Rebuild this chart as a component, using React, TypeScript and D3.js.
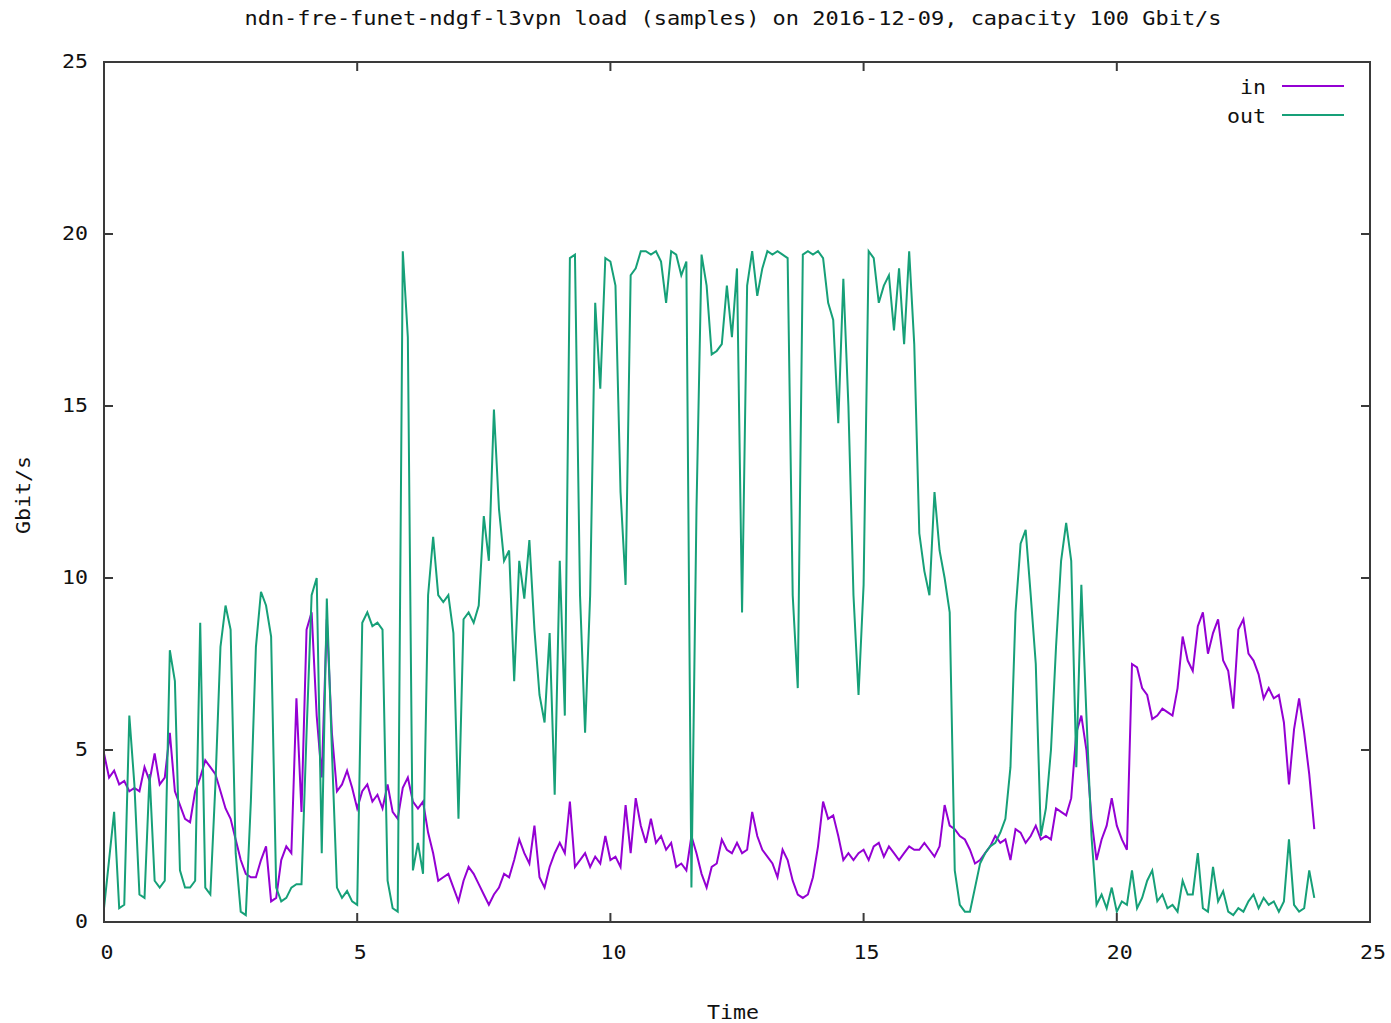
import React from "react";
import * as d3 from "d3";

const TITLE = "ndn-fre-funet-ndgf-l3vpn load (samples) on 2016-12-09, capacity 100 Gbit/s";
const X_LABEL = "Time";
const Y_LABEL = "Gbit/s";
const X_TICKS = [0, 5, 10, 15, 20, 25];
const Y_TICKS = [0, 5, 10, 15, 20, 25];
const SERIES_NAMES = ["in", "out"];
const SAMPLE_STEP_HOURS = 0.1;

// "in" traffic, one sample every 0.1 h starting at 0
const inValues = [
  4.9, 4.2, 4.4, 4.0, 4.1, 3.8, 3.9, 3.8, 4.5, 4.1,
  4.9, 4.0, 4.2, 5.5, 3.8, 3.4, 3.0, 2.9, 3.8, 4.2,
  4.7, 4.5, 4.3, 3.8, 3.3, 3.0, 2.4, 1.8, 1.4, 1.3,
  1.3, 1.8, 2.2, 0.6, 0.7, 1.8, 2.2, 2.0, 6.5, 3.2,
  8.5, 9.0, 6.0, 4.2, 8.8, 5.5, 3.8, 4.0, 4.4, 3.9,
  3.3, 3.8, 4.0, 3.5, 3.7, 3.3, 4.0, 3.2, 3.0, 3.9,
  4.2, 3.5, 3.3, 3.5, 2.6, 2.0, 1.2, 1.3, 1.4, 1.0,
  0.6, 1.2, 1.6, 1.4, 1.1, 0.8, 0.5, 0.8, 1.0, 1.4,
  1.3, 1.8, 2.4, 2.0, 1.7, 2.8, 1.3, 1.0, 1.6, 2.0,
  2.3, 2.0, 3.5, 1.6, 1.8, 2.0, 1.6, 1.9, 1.7, 2.5,
  1.8, 1.9, 1.6, 3.4, 2.0, 3.6, 2.8, 2.3, 3.0, 2.3,
  2.5, 2.1, 2.3, 1.6, 1.7, 1.5, 2.5, 2.0, 1.4, 1.0,
  1.6, 1.7, 2.4, 2.1, 2.0, 2.3, 2.0, 2.1, 3.2, 2.5,
  2.1, 1.9, 1.7, 1.3, 2.1, 1.8, 1.2, 0.8, 0.7, 0.8,
  1.3, 2.2, 3.5, 3.0, 3.1, 2.5, 1.8, 2.0, 1.8, 2.0,
  2.1, 1.8, 2.2, 2.3, 1.9, 2.2, 2.0, 1.8, 2.0, 2.2,
  2.1, 2.1, 2.3, 2.1, 1.9, 2.2, 3.4, 2.8, 2.7, 2.5,
  2.4, 2.1, 1.7, 1.8, 2.0, 2.2, 2.5, 2.3, 2.4, 1.8,
  2.7, 2.6, 2.3, 2.5, 2.8, 2.4, 2.5, 2.4, 3.3, 3.2,
  3.1, 3.6, 5.5, 6.0, 5.0, 3.0, 1.8, 2.4, 2.8, 3.6,
  2.8, 2.4, 2.1, 7.5, 7.4, 6.8, 6.6, 5.9, 6.0, 6.2,
  6.1, 6.0, 6.8, 8.3, 7.6, 7.3, 8.6, 9.0, 7.8, 8.4,
  8.8, 7.6, 7.3, 6.2, 8.5, 8.8, 7.8, 7.6, 7.2, 6.5,
  6.8, 6.5, 6.6, 5.8, 4.0, 5.6, 6.5, 5.5, 4.3, 2.7,
];

// "out" traffic, one sample every 0.1 h starting at 0
const outValues = [
  0.4, 1.8, 3.2, 0.4, 0.5, 6.0, 4.0, 0.8, 0.7, 4.3,
  1.2, 1.0, 1.2, 7.9, 7.0, 1.5, 1.0, 1.0, 1.2, 8.7,
  1.0, 0.8, 4.0, 8.0, 9.2, 8.5, 2.0, 0.3, 0.2, 3.5,
  8.0, 9.6, 9.2, 8.3, 1.0, 0.6, 0.7, 1.0, 1.1, 1.1,
  5.5, 9.5, 10.0, 2.0, 9.4, 5.0, 1.0, 0.7, 0.9, 0.6,
  0.5, 8.7, 9.0, 8.6, 8.7, 8.5, 1.2, 0.4, 0.3, 19.5,
  17.0, 1.5, 2.3, 1.4, 9.5, 11.2, 9.5, 9.3, 9.5, 8.4,
  3.0, 8.8, 9.0, 8.7, 9.2, 11.8, 10.5, 14.9, 12.0, 10.5,
  10.8, 7.0, 10.5, 9.4, 11.1, 8.5, 6.6, 5.8, 8.4, 3.7,
  10.5, 6.0, 19.3, 19.4, 9.5, 5.5, 9.5, 18.0, 15.5, 19.3,
  19.2, 18.5, 12.5, 9.8, 18.8, 19.0, 19.5, 19.5, 19.4, 19.5,
  19.2, 18.0, 19.5, 19.4, 18.8, 19.2, 1.0, 12.0, 19.4, 18.5,
  16.5, 16.6, 16.8, 18.5, 17.0, 19.0, 9.0, 18.5, 19.5, 18.2,
  19.0, 19.5, 19.4, 19.5, 19.4, 19.3, 9.5, 6.8, 19.4, 19.5,
  19.4, 19.5, 19.3, 18.0, 17.5, 14.5, 18.7, 15.0, 9.5, 6.6,
  9.8, 19.5, 19.3, 18.0, 18.5, 18.8, 17.2, 19.0, 16.8, 19.5,
  16.8, 11.3, 10.2, 9.5, 12.5, 10.8, 10.0, 9.0, 1.5, 0.5,
  0.3, 0.3, 1.0, 1.7, 2.0, 2.2, 2.3, 2.6, 3.0, 4.5,
  9.0, 11.0, 11.4, 9.5, 7.5, 2.5, 3.3, 5.0, 8.0, 10.5,
  11.6, 10.5, 4.5, 9.8, 6.0, 2.5, 0.5, 0.8, 0.4, 1.0,
  0.3, 0.6, 0.5, 1.5, 0.4, 0.7, 1.2, 1.5, 0.6, 0.8,
  0.4, 0.5, 0.3, 1.2, 0.8, 0.8, 2.0, 0.4, 0.3, 1.6,
  0.6, 0.9, 0.3, 0.2, 0.4, 0.3, 0.6, 0.8, 0.4, 0.7,
  0.5, 0.6, 0.3, 0.6, 2.4, 0.5, 0.3, 0.4, 1.5, 0.7,
];

const COLORS = ["#9400d3", "#16a078"];
const FONT = "'DejaVu Sans Mono', 'Liberation Mono', monospace";

const W = 1391;
const H = 1023;
const L = 104, R = 1370, T = 62, B = 922;
const TICK = 9;

export default function App() {
  const x = d3.scaleLinear().domain([0, 25]).range([L, R]);
  const y = d3.scaleLinear().domain([0, 25]).range([B, T]);
  const line = d3
    .line<number>()
    .x((_, i) => x(i * SAMPLE_STEP_HOURS))
    .y((d) => y(d))
    .curve(d3.curveLinear);
  const series = [inValues, outValues];
  const frame = "#3a3a3a";

  return (
    <svg
      width={W}
      height={H}
      style={{ position: "absolute", left: 0, top: 0, background: "#fff" }}
      fontFamily={FONT}
    >
      <rect x={0} y={0} width={W} height={H} fill="#fff" />
      <text x={733} y={25} textAnchor="middle" fontSize={20} fill="#111"
        textLength={977} lengthAdjust="spacingAndGlyphs">
        {TITLE}
      </text>

      {/* data */}
      <g clipPath="url(#clip)">
        {series.map((vals, si) => (
          <path key={si} d={line(vals) || ""} fill="none" stroke={COLORS[si]}
            strokeWidth={2} strokeLinejoin="miter" />
        ))}
      </g>
      <defs>
        <clipPath id="clip">
          <rect x={L} y={T} width={R - L} height={B - T} />
        </clipPath>
      </defs>

      {/* frame */}
      <rect x={L} y={T} width={R - L} height={B - T} fill="none" stroke={frame} strokeWidth={2} />

      {/* y ticks */}
      {Y_TICKS.map((t) => (
        <g key={"y" + t}>
          <line x1={L} x2={L + TICK} y1={y(t)} y2={y(t)} stroke={frame} strokeWidth={2} />
          <line x1={R - TICK} x2={R} y1={y(t)} y2={y(t)} stroke={frame} strokeWidth={2} />
          <text x={88} y={y(t) + 6} textAnchor="end" fontSize={19} fill="#111"
            textLength={String(t).length * 13} lengthAdjust="spacingAndGlyphs">
            {t}
          </text>
        </g>
      ))}

      {/* x ticks */}
      {X_TICKS.map((t) => (
        <g key={"x" + t}>
          <line x1={x(t)} x2={x(t)} y1={B} y2={B - TICK} stroke={frame} strokeWidth={2} />
          <line x1={x(t)} x2={x(t)} y1={T} y2={T + TICK} stroke={frame} strokeWidth={2} />
          <text x={x(t) + 3} y={959} textAnchor="middle" fontSize={19} fill="#111"
            textLength={String(t).length * 13} lengthAdjust="spacingAndGlyphs">
            {t}
          </text>
        </g>
      ))}

      <text x={733} y={1019} textAnchor="middle" fontSize={19} fill="#111"
        textLength={52} lengthAdjust="spacingAndGlyphs">
        {X_LABEL}
      </text>
      <text transform={`translate(30,495) rotate(-90)`} textAnchor="middle" fontSize={19} fill="#111"
        textLength={78} lengthAdjust="spacingAndGlyphs">
        {Y_LABEL}
      </text>

      {/* legend */}
      {SERIES_NAMES.map((name, i) => (
        <g key={name}>
          <text x={1266} y={94 + i * 29} textAnchor="end" fontSize={19} fill="#111"
            textLength={name.length * 13} lengthAdjust="spacingAndGlyphs">
            {name}
          </text>
          <line x1={1282} x2={1344} y1={86 + i * 29} y2={86 + i * 29} stroke={COLORS[i]} strokeWidth={2} />
        </g>
      ))}
    </svg>
  );
}
